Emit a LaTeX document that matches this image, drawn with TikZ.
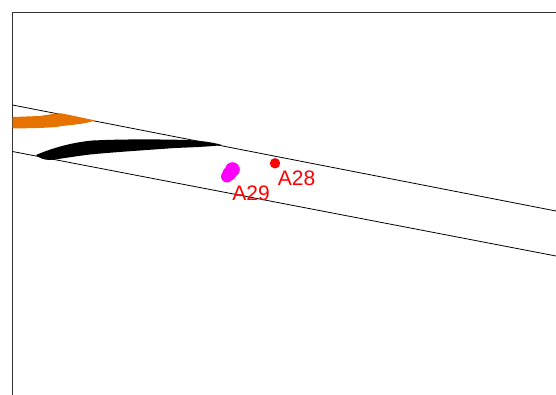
\documentclass[tikz,border=0pt]{standalone}
\usepackage{fontspec}
\setmainfont{Liberation Sans}
\definecolor{orangeline}{RGB}{230,115,0}
\definecolor{magentadot}{RGB}{255,0,255}
\begin{document}
\begin{tikzpicture}[x=1pt,y=-1pt,
  frameline/.style={draw=black!80,line width=0.9pt},
  thinline/.style={draw=black,line width=0.8pt},
  lbl/.style={text=red,font=\fontsize{21}{21}\selectfont,inner sep=0pt}]
\useasboundingbox (0,0) rectangle (556,395);
\fill[white] (0,0) rectangle (556,395);
% frame
\draw[frameline] (12.5,395) -- (12.5,12.5) -- (556,12.5);
% diagonal lines
\draw[thinline] (12.5,105) -- (556,211);
\draw[thinline] (12.5,151.5) -- (556,256);
% orange stroke
\fill[orangeline] (12.5,117) -- (40,116) .. controls (50,114.5) and (56,113) .. (62,113.5)
  .. controls (75,116) and (85,118.5) .. (95,120.5)
  .. controls (88,123) and (78,124.5) .. (62,126)
  .. controls (55,127.5) and (45,128) .. (12.5,128.5) -- cycle;
% black stroke
\fill[black] (36,155) .. controls (50,149) and (70,142.5) .. (93,140.5)
  .. controls (120,139.2) and (150,139.2) .. (180,139.8)
  .. controls (198,140.2) and (212,142) .. (222,145)
  .. controls (212,146.5) and (195,147.2) .. (175,148)
  .. controls (140,150.5) and (110,152.5) .. (90,154.5)
  .. controls (70,157) and (60,159) .. (50,160)
  .. controls (44,160) and (39,158) .. (36,155) -- cycle;
% magenta blob
\fill[magentadot] (232.5,169.5) circle (7.3);
\fill[magentadot] (229.5,173.5) circle (7);
\fill[magentadot] (227,176.5) circle (6);
% red dot
\fill[red] (275,163.3) circle (5.2);
% labels
\node[lbl] (a28) at (296.5,177.8) {A28};
\node[lbl] (a29) at (251,192.8) {A29};
\end{tikzpicture}
\end{document}
